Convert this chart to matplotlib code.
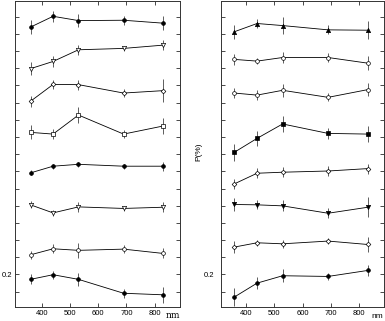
import matplotlib
matplotlib.use("Agg")
import matplotlib.pyplot as plt
import numpy as np

wavelength = [360, 440, 530, 690, 830]

# Left panel (top to bottom)
L1 = [1.640, 1.703, 1.678, 1.680, 1.663]
L1e = [0.041, 0.033, 0.039, 0.026, 0.041]
L2 = [1.398, 1.440, 1.508, 1.516, 1.535]
L2e = [0.036, 0.034, 0.030, 0.016, 0.031]
L3 = [1.208, 1.306, 1.305, 1.256, 1.270]
L3e = [0.032, 0.027, 0.029, 0.023, 0.068]
L4 = [1.027, 1.017, 1.128, 1.017, 1.064]
L4e = [0.041, 0.027, 0.047, 0.024, 0.044]
L5 = [0.791, 0.830, 0.841, 0.830, 0.830]
L5e = [0.015, 0.015, 0.015, 0.015, 0.027]
L6 = [0.605, 0.558, 0.593, 0.584, 0.591]
L6e = [0.021, 0.017, 0.027, 0.017, 0.029]
L7 = [0.314, 0.349, 0.340, 0.347, 0.322]
L7e = [0.023, 0.026, 0.044, 0.022, 0.029]
L8 = [0.171, 0.198, 0.171, 0.090, 0.081]
L8e = [0.029, 0.023, 0.039, 0.026, 0.048]

# Right panel (top to bottom)
R1 = [1.613, 1.661, 1.649, 1.624, 1.622]
R1e = [0.042, 0.029, 0.047, 0.026, 0.051]
R2 = [1.452, 1.442, 1.463, 1.463, 1.430]
R2e = [0.034, 0.019, 0.032, 0.026, 0.039]
R3 = [1.256, 1.244, 1.272, 1.231, 1.276]
R3e = [0.029, 0.027, 0.039, 0.024, 0.039]
R4 = [0.911, 0.992, 1.076, 1.021, 1.017]
R4e = [0.050, 0.045, 0.048, 0.032, 0.048]
R5 = [0.727, 0.789, 0.795, 0.802, 0.816]
R5e = [0.031, 0.029, 0.029, 0.027, 0.029]
R6 = [0.607, 0.605, 0.599, 0.556, 0.591]
R6e = [0.036, 0.026, 0.032, 0.029, 0.058]
R7 = [0.359, 0.384, 0.378, 0.394, 0.374]
R7e = [0.034, 0.019, 0.024, 0.019, 0.043]
R8 = [0.068, 0.149, 0.192, 0.188, 0.223]
R8e = [0.055, 0.036, 0.039, 0.019, 0.032]

left_series = [(L1, L1e, 'o', True), (L2, L2e, 'v', False), (L3, L3e, 'D', False),
               (L4, L4e, 's', False), (L5, L5e, 'o', True), (L6, L6e, 'v', False),
               (L7, L7e, 'o', False), (L8, L8e, 'o', True)]
right_series = [(R1, R1e, '^', True), (R2, R2e, 'o', False), (R3, R3e, 'o', False),
                (R4, R4e, 's', True), (R5, R5e, 'D', False), (R6, R6e, 'v', True),
                (R7, R7e, 'D', False), (R8, R8e, 'o', True)]

xticks = [400, 500, 600, 700, 800]
yticks = [round(v, 1) for v in np.arange(0.1, 1.75, 0.1)]

W, H = 385, 321
fig = plt.figure(figsize=(W / 100, H / 100), dpi=100)
plt.rcParams['font.family'] = ['Liberation Sans', 'DejaVu Sans']

axL = fig.add_axes([15 / W, (H - 307) / H, 165 / W, 306.5 / H])
axR = fig.add_axes([220.7 / W, (H - 307) / H, 163.6 / W, 306.5 / H])


def draw(ax, series, xlim):
    for vals, errs, m, filled in series:
        size = 2.7 if m in ('o', 's') else (2.4 if m == 'D' else 3.1)
        ax.errorbar(wavelength, vals, yerr=errs, color='black', lw=0.6,
                    elinewidth=0.6, ecolor='#444444', capsize=0,
                    marker=m, ms=size, mfc='black' if filled else 'white',
                    mec='black', mew=0.5)
    ax.set_xlim(*xlim)
    ax.set_ylim(0.01, 1.795)
    ax.set_xticks(xticks)
    ax.set_yticks(yticks)
    ax.set_yticklabels(['0.2' if abs(t - 0.2) < 1e-6 else '' for t in yticks])
    ax.tick_params(direction='in', top=True, right=True, length=3, width=0.5,
                   labelsize=5.5, pad=2)
    for s in ax.spines.values():
        s.set_linewidth(0.7)
        s.set_color('#333333')


draw(axL, left_series, (305, 890))
draw(axR, right_series, (312, 888))
axR.tick_params(axis='y', pad=5)

fig.text(173 / W, 1 - 315 / H, 'nm', fontsize=6.5, family='DejaVu Serif',
         ha='center', va='center')
fig.text(377 / W, 1 - 316.5 / H, 'nm', fontsize=6, ha='center', va='center')
fig.text(199 / W, 1 - 152 / H, 'P(%)', fontsize=6, rotation=90,
         ha='center', va='center')

fig.savefig('out.png', dpi=100)
